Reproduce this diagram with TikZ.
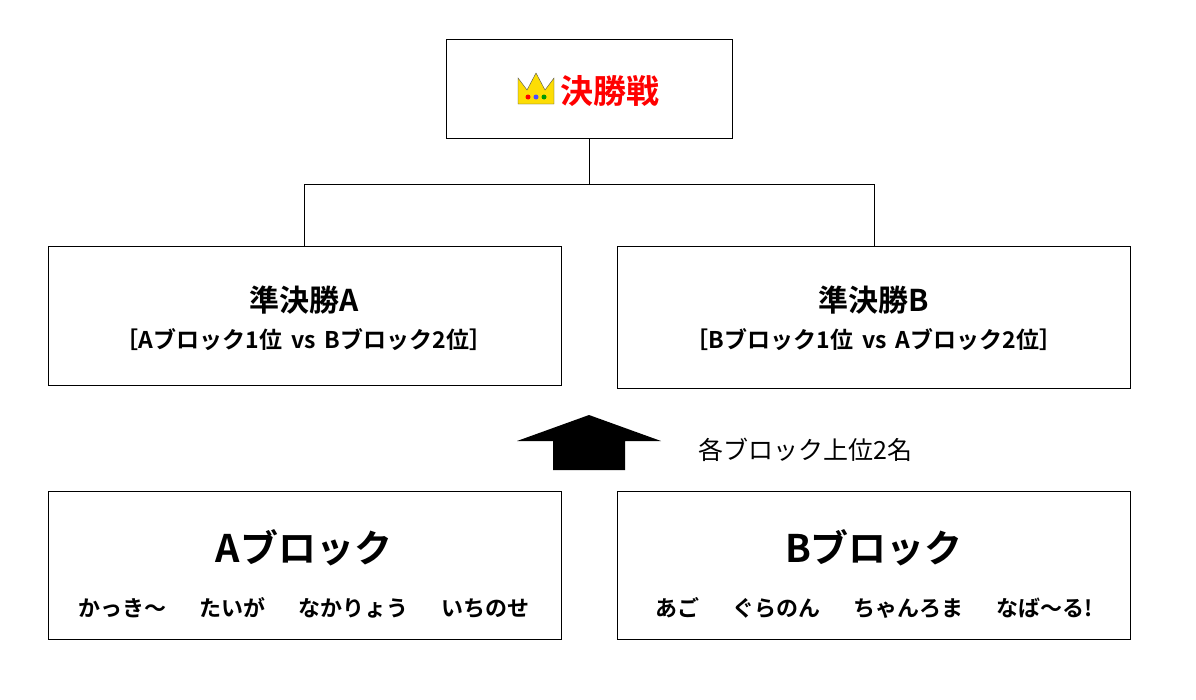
\documentclass[tikz,border=0pt]{standalone}
\usepackage{fontspec}
\newfontfamily\cjk{Noto Sans CJK JP}[BoldFont={Noto Sans CJK JP Bold}]
\begin{document}
\begin{tikzpicture}[x=1pt,y=-1pt,
    box/.style={draw,thick,inner sep=0pt},
    ttl/.style={font=\cjk\bfseries\fontsize{30}{34}\selectfont},
    sub/.style={font=\cjk\bfseries\fontsize{23}{27}\selectfont},
    blk/.style={font=\cjk\bfseries\fontsize{38}{44}\selectfont},
    mem/.style={font=\cjk\bfseries\fontsize{22}{26}\selectfont}]
  \useasboundingbox[fill=white] (0,0) rectangle (1196,699);
  % boxes
  \draw[box] (446,39) rectangle (732,138);
  \draw[box] (48,246) rectangle (561,385);
  \draw[box] (617,246) rectangle (1130,388);
  \draw[box] (48,491) rectangle (561,639);
  \draw[box] (617,491) rectangle (1130,639);
  \coordinate (fin) at (589,138);
  \coordinate (semiA) at (304,246);
  \coordinate (semiB) at (874,246);
  % bracket
  \draw (fin) -- (589,184) -- (304,184) -- (semiA);
  \draw (589,184) -- (874,184) -- (semiB);
  % final
  \fill[yellow!80!orange,draw=black!70] (518,104) -- (518,78) -- (527,90) -- (536,73) -- (545,90) -- (554,78) -- (554,104) -- cycle;
  \fill[red] (528,97) circle (2.5); \fill[blue!70] (536,97) circle (2.5); \fill[green!60!black] (544,97) circle (2.5);
  \node[ttl,text=red,anchor=west,font=\cjk\bfseries\fontsize{33}{38}\selectfont] (final) at (557,91) {決勝戦};
  % semifinals
  \node[ttl] (sA) at (304,300) {準決勝A};
  \node[sub] (sAsub) at (304,340) {［Aブロック1位 \,vs\, Bブロック2位］};
  \node[ttl] (sB) at (874,300) {準決勝B};
  \node[sub] (sBsub) at (874,340) {［Bブロック1位 \,vs\, Aブロック2位］};
  % arrow
  \fill (517,441) -- (589,415) -- (661,441) -- (625,441) -- (625,470) -- (553,470) -- (553,441) -- cycle;
  \node[font=\cjk\fontsize{25}{29}\selectfont,anchor=west] (up) at (695,450) {各ブロック上位2名};
  % blocks
  \node[blk] (bA) at (304,548) {Aブロック};
  \node[mem] (mA) at (304,608) {かっき〜\quad\enspace たいが\quad\enspace なかりょう\quad\enspace いちのせ};
  \node[blk] (bB) at (874,548) {Bブロック};
  \node[mem] (mB) at (874,608) {あご\quad\enspace ぐらのん\quad\enspace ちゃんろま\quad\enspace なば〜る!};
\end{tikzpicture}
\end{document}
